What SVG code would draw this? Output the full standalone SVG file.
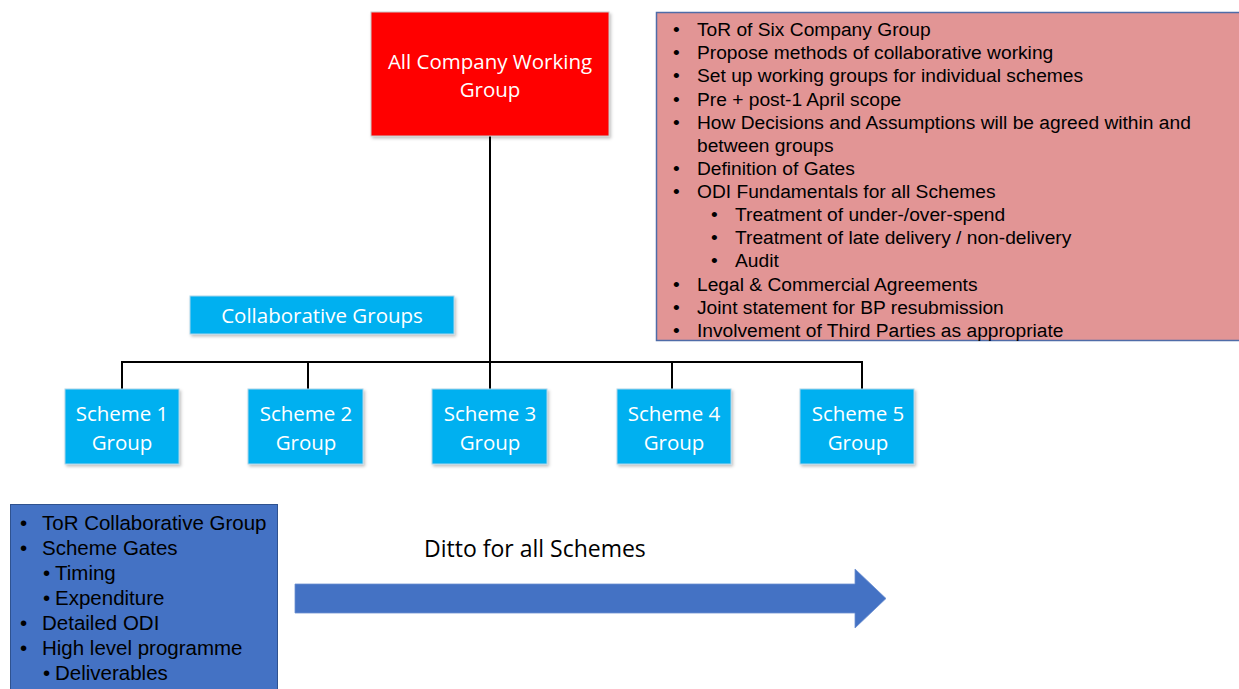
<svg xmlns="http://www.w3.org/2000/svg" width="1239" height="689" viewBox="0 0 1239 689">
<defs>
<filter id="sh" x="-10%" y="-10%" width="130%" height="130%">
<feDropShadow dx="1.5" dy="2" stdDeviation="1.5" flood-color="#000" flood-opacity="0.25"/>
</filter>
</defs>
<style>
.cal{font-family:"Open Sans","Liberation Sans",sans-serif;fill:#fff;font-size:20.5px;text-anchor:middle}
.box{fill:#00B0F0;stroke:#A9D4EA;stroke-width:1;filter:url(#sh)}
.ln{stroke:#000;stroke-width:2;fill:none}
.ar{font-family:"Liberation Sans",Arial,sans-serif;fill:#000}
</style>
<rect width="1239" height="689" fill="#fff"/>
<g id="connectors">
<line class="ln" x1="490" y1="136" x2="490" y2="389"/>
<line class="ln" x1="121" y1="362" x2="863" y2="362"/>
<line class="ln" x1="122" y1="361" x2="122" y2="389"/>
<line class="ln" x1="308" y1="362" x2="308" y2="389"/>
<line class="ln" x1="672" y1="362" x2="672" y2="389"/>
<line class="ln" x1="862" y1="361" x2="862" y2="389"/>
</g>
<g id="all-company">
<rect x="371" y="12" width="238" height="124" fill="#FF0000" stroke="#C9C9C9" stroke-width="1" filter="url(#sh)"/>
<text class="cal" x="490" y="69" font-size="21.5">All Company Working</text>
<text class="cal" x="490" y="97" font-size="21.5">Group</text>
</g>
<g id="tor-list">
<rect x="656.5" y="12.5" width="590" height="328" fill="#E29595" stroke="#4F6CA8" stroke-width="1.5"/>
<g class="ar" font-size="19.2">
<text x="673" y="36">•</text><text x="697" y="36">ToR of Six Company Group</text>
<text x="673" y="59">•</text><text x="697" y="59">Propose methods of collaborative working</text>
<text x="673" y="82">•</text><text x="697" y="82">Set up working groups for individual schemes</text>
<text x="673" y="106">•</text><text x="697" y="106">Pre + post-1 April scope</text>
<text x="673" y="129">•</text><text x="697" y="129">How Decisions and Assumptions will be agreed within and</text>
<text x="697" y="152">between groups</text>
<text x="673" y="175">•</text><text x="697" y="175">Definition of Gates</text>
<text x="673" y="198">•</text><text x="697" y="198">ODI Fundamentals for all Schemes</text>
<text x="711" y="221">•</text><text x="735" y="221">Treatment of under-/over-spend</text>
<text x="711" y="244">•</text><text x="735" y="244">Treatment of late delivery / non-delivery</text>
<text x="711" y="267">•</text><text x="735" y="267">Audit</text>
<text x="673" y="291">•</text><text x="697" y="291">Legal &amp; Commercial Agreements</text>
<text x="673" y="314">•</text><text x="697" y="314">Joint statement for BP resubmission</text>
<text x="673" y="337">•</text><text x="697" y="337">Involvement of Third Parties as appropriate</text>
</g>
</g>
<g id="collab-label">
<rect x="190" y="296" width="264" height="38" fill="#00B0F0" stroke="#A9D4EA" stroke-width="1" filter="url(#sh)"/>
<text class="cal" x="322" y="323" font-size="20">Collaborative Groups</text>
</g>
<g id="scheme1">
<rect class="box" x="65" y="389" width="114" height="75"/>
<text class="cal" x="122" y="421">Scheme 1</text>
<text class="cal" x="122" y="450">Group</text>
</g>
<g id="scheme2">
<rect class="box" x="248" y="389" width="115" height="75"/>
<text class="cal" x="306" y="421">Scheme 2</text>
<text class="cal" x="306" y="450">Group</text>
</g>
<g id="scheme3">
<rect class="box" x="432" y="389" width="115" height="75"/>
<text class="cal" x="490" y="421">Scheme 3</text>
<text class="cal" x="490" y="450">Group</text>
</g>
<g id="scheme4">
<rect class="box" x="617" y="389" width="114" height="75"/>
<text class="cal" x="674" y="421">Scheme 4</text>
<text class="cal" x="674" y="450">Group</text>
</g>
<g id="scheme5">
<rect class="box" x="800" y="389" width="114" height="75"/>
<text class="cal" x="858" y="421">Scheme 5</text>
<text class="cal" x="858" y="450">Group</text>
</g>
<g id="scheme-list">
<rect x="10.5" y="504.5" width="267" height="190" fill="#4472C4" stroke="#2F528F" stroke-width="1"/>
<g class="ar" font-size="20.5">
<text x="20" y="530">•</text><text x="42" y="530">ToR Collaborative Group</text>
<text x="20" y="555">•</text><text x="42" y="555">Scheme Gates</text>
<text x="43" y="580">•</text><text x="55" y="580">Timing</text>
<text x="43" y="605">•</text><text x="55" y="605">Expenditure</text>
<text x="20" y="630">•</text><text x="42" y="630">Detailed ODI</text>
<text x="20" y="655">•</text><text x="42" y="655">High level programme</text>
<text x="43" y="680">•</text><text x="55" y="680">Deliverables</text>
</g>
</g>
<g id="ditto-arrow">
<polygon points="295,584 855,584 855,569 886,598.5 855,628 855,613 295,613" fill="#4472C4" stroke="#6C8FD0" stroke-width="0.8"/>
<text x="424" y="557" font-family="Open Sans, Liberation Sans, sans-serif" font-size="23" fill="#000">Ditto for all Schemes</text>
</g>
</svg>
